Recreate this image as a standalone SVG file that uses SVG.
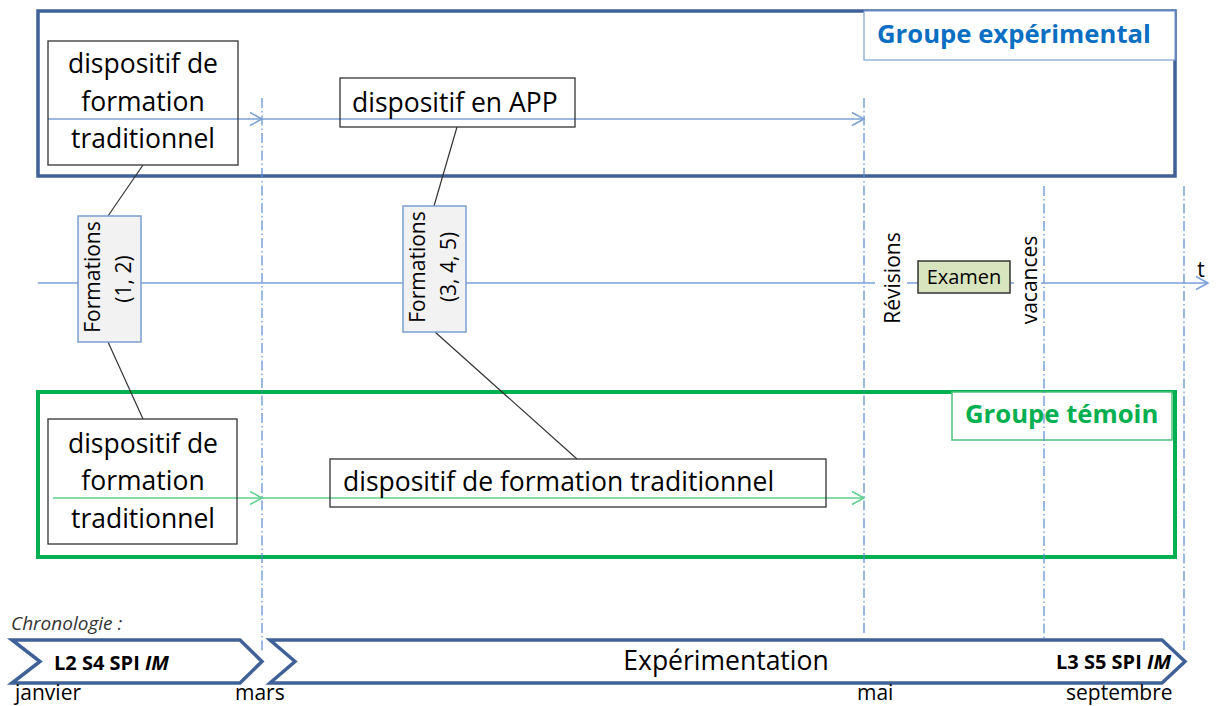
<svg xmlns="http://www.w3.org/2000/svg" width="1219" height="706" viewBox="0 0 1219 706">
  <style>
    text { font-family: "Open Sans", "Liberation Sans", sans-serif; fill: #000; }
    .t26 { font-size: 26.5px; }
    .t21 { font-size: 21px; }
    .title { font-size: 25.7px; font-weight: bold; }
    .box { fill: none; stroke: #333; stroke-width: 1.3; }
    .form { fill: #f2f2f2; stroke: #7c9fd0; stroke-width: 1.5; }
    .conn { stroke: #333; stroke-width: 1.2; fill: none; }
    .vline { stroke: #5a8ad0; stroke-width: 1.2; stroke-dasharray: 10 3 1.5 3; fill: none; }
    .blue { stroke: #7ba0d6; stroke-width: 1.5; fill: none; }
    .green { stroke: #5fd08d; stroke-width: 1.5; fill: none; }
    .chev { fill: #fff; stroke: #3f6198; stroke-width: 3.5; }
  </style>
  <defs>
    <marker id="arrB" markerUnits="userSpaceOnUse" markerWidth="16" markerHeight="16" refX="14" refY="8" orient="auto" viewBox="0 0 16 16">
      <polyline points="2,1.5 14,8 2,14.5" fill="none" stroke="#7ba0d6" stroke-width="1.5"/>
    </marker>
    <marker id="arrG" markerUnits="userSpaceOnUse" markerWidth="16" markerHeight="16" refX="14" refY="8" orient="auto" viewBox="0 0 16 16">
      <polyline points="2,1.5 14,8 2,14.5" fill="none" stroke="#5fd08d" stroke-width="1.5"/>
    </marker>
  </defs>
  <rect width="1219" height="706" fill="#fff"/>

  <!-- Groups -->
  <g id="groupe-experimental">
    <rect x="38" y="11" width="1137" height="165" fill="none" stroke="#3f6198" stroke-width="3.5"/>
    <rect x="864" y="11" width="311" height="49" fill="#fff" stroke="#7ea2d4" stroke-width="1.2"/>
    <text class="title" x="877" y="43" style="fill:#0a6fc2">Groupe expérimental</text>
  </g>
  <g id="groupe-temoin">
    <rect x="38" y="392" width="1137" height="165" fill="none" stroke="#00b050" stroke-width="4"/>
    <rect x="952" y="392" width="220" height="48" fill="#fff" stroke="#4cc27a" stroke-width="1.5"/>
    <text class="title" x="965" y="423" style="fill:#00b050">Groupe témoin</text>
  </g>

  <!-- Connectors -->
  <g id="connectors">
    <path class="vline" d="M262,98 V652"/>
    <path class="vline" d="M864,98 V633"/>
    <path class="vline" d="M1044,186 V640"/>
    <path class="vline" d="M1184,186 V650"/>
    <path class="blue" d="M48,119 H262" marker-end="url(#arrB)"/>
    <path class="blue" d="M262,119 H864" marker-end="url(#arrB)"/>
    <path class="green" d="M53,498 H262" marker-end="url(#arrG)"/>
    <path class="green" d="M262,498 H864" marker-end="url(#arrG)"/>
    <path class="blue" d="M38,283 H1208" marker-end="url(#arrB)"/>
    <path class="conn" d="M143,165 L108,216"/>
    <path class="conn" d="M108,342 L143,419"/>
    <path class="conn" d="M457,127 L434,206"/>
    <path class="conn" d="M435,332 L577,459"/>
  </g>

  <!-- Nodes -->
  <g id="exp-traditionnel">
    <rect class="box" x="48" y="41" width="190" height="124"/>
    <text class="t26" x="143" y="73" text-anchor="middle">dispositif de</text>
    <text class="t26" x="143" y="111" text-anchor="middle">formation</text>
    <text class="t26" x="143" y="148" text-anchor="middle">traditionnel</text>
  </g>
  <g id="exp-app">
    <rect class="box" x="340" y="78" width="235" height="49"/>
    <text class="t26" x="352" y="112">dispositif en APP</text>
  </g>
  <g id="formations-12">
    <rect class="form" x="78" y="216" width="63" height="126"/>
    <text class="t21" transform="translate(100,277) rotate(-90)" text-anchor="middle">Formations</text>
    <text class="t21" transform="translate(131,279) rotate(-90)" text-anchor="middle">(1, 2)</text>
  </g>
  <g id="formations-345">
    <rect class="form" x="403" y="206" width="63" height="126"/>
    <text class="t21" transform="translate(425,267) rotate(-90)" text-anchor="middle">Formations</text>
    <text class="t21" transform="translate(456,267) rotate(-90)" text-anchor="middle">(3, 4, 5)</text>
  </g>
  <g id="revisions">
    <rect x="875" y="274" width="32" height="18" fill="#fff"/>
    <text class="t21" transform="translate(900,278) rotate(-90)" text-anchor="middle">Révisions</text>
  </g>
  <g id="examen">
    <rect x="918" y="261" width="92" height="32" fill="#d7e4bd" stroke="#333" stroke-width="1.5"/>
    <text x="964" y="284" text-anchor="middle" style="font-size:20px">Examen</text>
  </g>
  <g id="vacances">
    <rect x="1014" y="274" width="27" height="18" fill="#fff"/>
    <text class="t21" transform="translate(1037,280) rotate(-90)" text-anchor="middle">vacances</text>
  </g>
  <g id="axis-label">
    <text class="t21" x="1201" y="277" text-anchor="middle">t</text>
  </g>
  <g id="temoin-traditionnel">
    <rect class="box" x="48" y="419" width="189" height="125"/>
    <text class="t26" x="143" y="453" text-anchor="middle">dispositif de</text>
    <text class="t26" x="143" y="490" text-anchor="middle">formation</text>
    <text class="t26" x="143" y="528" text-anchor="middle">traditionnel</text>
  </g>
  <g id="temoin-traditionnel-2">
    <rect class="box" x="330" y="459" width="496" height="48"/>
    <text class="t26" x="343" y="491">dispositif de formation traditionnel</text>
  </g>

  <!-- Chronology -->
  <g id="chronologie">
    <text x="11" y="630" style="font-size:19px;font-style:italic;fill:#333">Chronologie :</text>
    <path class="chev" d="M12,640 L240,640 L262,661.5 L240,683 L12,683 L40,661.5 Z"/>
    <path class="chev" d="M270,640 L1162,640 L1185,661.5 L1162,683 L270,683 L295,661.5 Z"/>
    <text x="54" y="670" style="font-size:20px;font-weight:bold">L2 S4 SPI <tspan font-style="italic">IM</tspan></text>
    <text class="t26" x="726" y="670" text-anchor="middle">Expérimentation</text>
    <text x="1171" y="669" text-anchor="end" style="font-size:20px;font-weight:bold">L3 S5 SPI <tspan font-style="italic">IM</tspan></text>
    <text class="t21" x="15" y="700">janvier</text>
    <text class="t21" x="235" y="700">mars</text>
    <text class="t21" x="857" y="700">mai</text>
    <text class="t21" x="1066" y="700">septembre</text>
  </g>
</svg>
